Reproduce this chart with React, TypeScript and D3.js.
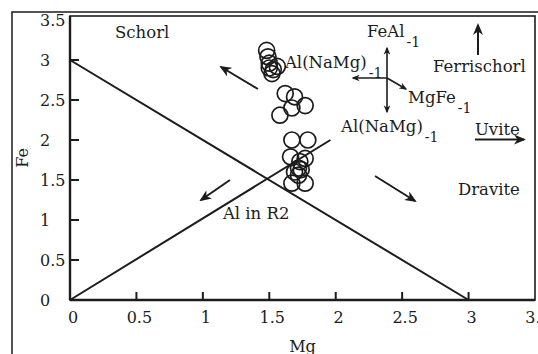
import React, { useEffect } from "react";
import * as d3 from "d3";

// Sample compositions (Mg, Fe apfu)
const mgValues = [1.48, 1.49, 1.5, 1.5, 1.53, 1.52, 1.56, 1.62, 1.69, 1.77, 1.67, 1.58, 1.67, 1.79, 1.66, 1.77, 1.73, 1.72, 1.69, 1.74, 1.67, 1.77, 1.72];
const feValues = [3.12, 3.04, 2.96, 2.9, 2.88, 2.83, 2.92, 2.58, 2.54, 2.43, 2.4, 2.31, 2.0, 2.0, 1.79, 1.77, 1.73, 1.65, 1.6, 1.63, 1.46, 1.46, 1.56];

const xTicks = [0, 0.5, 1, 1.5, 2, 2.5, 3, 3.5];
const yTicks = [0, 0.5, 1, 1.5, 2, 2.5, 3, 3.5];
const xTickLabels = ["0", "0.5", "1", "1.5", "2", "2.5", "3", "3.5"];
const yTickLabels = ["0", "0.5", "1", "1.5", "2", "2.5", "3", "3.5"];

// Boundary lines [Mg, Fe] endpoints
const lineStarts = [[0, 3], [0, 0]];
const lineEnds = [[3, 0], [1.96, 2.0]];

// Field / vector labels (data coordinates)
const labelTexts = ["Schorl", "FeAl", "Al(NaMg)", "MgFe", "Al(NaMg)", "Ferrischorl", "Uvite", "Dravite", "Al in R2"];
const labelSubs = ["", "-1", "-1", "-1", "-1", "", "", "", ""];
const labelMg = [0.339, 2.236, 1.618, 2.544, 2.04, 2.732, 3.048, 2.92, 1.151];
const labelFe = [3.275, 3.29, 2.9, 2.4625, 2.1, 2.85, 2.0625, 1.3125, 1.0125];

// Arrows (data coordinates)
const arrowFrom = [[1.415, 2.6375], [1.204, 1.5], [2.296, 1.55], [3.048, 2.006], [3.071, 3.0625], [2.386, 2.775], [2.386, 2.775], [2.386, 3.15]];
const arrowTo = [[1.137, 2.9125], [0.986, 1.25], [2.597, 1.2375], [3.417, 2.006], [3.071, 3.4375], [2.13, 2.775], [2.529, 2.6375], [2.386, 2.35]];
const arrowKind = ["big", "big", "big", "big", "big", "small", "small", "double"];

const W = 538;
const H = 354;
const FONT = "'DejaVu Serif', serif";
const INK = "#1c1c1c";

export default function App() {
  useEffect(() => {
    document.body.style.margin = "0";
  }, []);

  const x = d3.scaleLinear().domain([0, 3.5]).range([70, 535]);
  const y = d3.scaleLinear().domain([0, 3.5]).range([300, 20]);
  const top = y(3.55);
  const line = d3.line<number[]>().x((d) => x(d[0])).y((d) => y(d[1]));

  return (
    <svg width={W} height={H} style={{ position: "absolute", left: 0, top: 0, background: "#fff" }}>
      <defs>
        <marker id="big" viewBox="0 0 12 10" refX="10" refY="5" markerWidth="12" markerHeight="10" markerUnits="userSpaceOnUse" orient="auto">
          <path d="M0,0 L12,5 L0,10 L3.5,5 Z" fill={INK} />
        </marker>
        <marker id="small" viewBox="0 0 12 10" refX="10" refY="5" markerWidth="8" markerHeight="7" markerUnits="userSpaceOnUse" orient="auto-start-reverse">
          <path d="M0,0 L12,5 L0,10 L3.5,5 Z" fill={INK} />
        </marker>
      </defs>

      {/* outer frame */}
      <path d="M12,354 L12,12 L538,12" fill="none" stroke={INK} strokeWidth={1.5} />

      {/* plot frame */}
      <rect x={x(0)} y={top} width={x(3.5) - x(0)} height={y(0) - top} fill="none" stroke={INK} strokeWidth={1.6} />
      <line x1={x(0)} x2={x(0)} y1={top} y2={y(0)} stroke={INK} strokeWidth={2.4} />
      <line x1={x(0)} x2={x(3.5)} y1={y(0)} y2={y(0)} stroke={INK} strokeWidth={2.4} />

      {/* ticks */}
      {xTicks.map((t, i) =>
        t > 0 && t < 3.5 ? (
          <line key={"xt" + i} x1={x(t)} x2={x(t)} y1={y(0)} y2={y(0) - 8} stroke={INK} strokeWidth={2} />
        ) : null
      )}
      {yTicks.map((t, i) =>
        t > 0 && t < 3.5 ? (
          <line key={"yt" + i} x1={x(0)} x2={x(0) + 9} y1={y(t)} y2={y(t)} stroke={INK} strokeWidth={2} />
        ) : null
      )}
      {xTicks.map((t, i) => (
        <text key={"xl" + i} x={x(t) + 3} y={323} textAnchor="middle" fontFamily={FONT} fontSize={16} fill={INK}>
          {xTickLabels[i]}
        </text>
      ))}
      {yTicks.map((t, i) => (
        <text key={"yl" + i} x={40} y={y(t) + 5.5} textAnchor="start" fontFamily={FONT} fontSize={16} fill={INK}>
          {yTickLabels[i]}
        </text>
      ))}

      {/* axis titles */}
      <text x={(x(0) + x(3.5)) / 2} y={352} textAnchor="middle" fontFamily={FONT} fontSize={16} fill={INK}>
        Mg
      </text>
      <text transform={`translate(28,${(top + y(0)) / 2}) rotate(-90)`} textAnchor="middle" fontFamily={FONT} fontSize={16} fill={INK}>
        Fe
      </text>

      {/* boundary lines */}
      {lineStarts.map((s, i) => (
        <path key={"ln" + i} d={line([s, lineEnds[i]]) || ""} fill="none" stroke={INK} strokeWidth={2} />
      ))}

      {/* data points */}
      {mgValues.map((m, i) => (
        <circle key={"c" + i} cx={x(m)} cy={y(feValues[i])} r={8} fill="none" stroke={INK} strokeWidth={1.7} />
      ))}

      {/* arrows */}
      {arrowFrom.map((f, i) => {
        const t = arrowTo[i];
        const k = arrowKind[i];
        return (
          <line
            key={"ar" + i}
            x1={x(f[0])}
            y1={y(f[1])}
            x2={x(t[0])}
            y2={y(t[1])}
            stroke={INK}
            strokeWidth={k === "big" ? 2 : 1.6}
            markerEnd={k === "big" ? "url(#big)" : "url(#small)"}
            markerStart={k === "double" ? "url(#small)" : undefined}
          />
        );
      })}

      {/* labels */}
      {labelTexts.map((t, i) => (
        <text key={"lb" + i} x={x(labelMg[i])} y={y(labelFe[i])} fontFamily={FONT} fontSize={16.5} fill={INK}>
          {t}
          {labelSubs[i] ? (
            <tspan dx={2} dy={10} fontSize={14}>
              {labelSubs[i]}
            </tspan>
          ) : null}
        </text>
      ))}
    </svg>
  );
}
